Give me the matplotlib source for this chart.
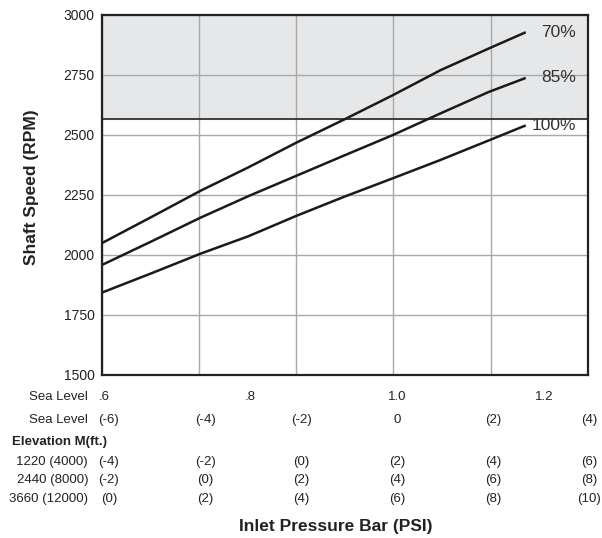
import numpy as np
import matplotlib
matplotlib.use("Agg")
from matplotlib import pyplot as plt
from matplotlib import transforms

plt.rcParams['font.family'] = ['Liberation Sans', 'DejaVu Sans']

# inlet pressure, sea level gauge psi
psi = [-6.15, -5.1, -4.1, -3.1, -2.1, -1.1, -0.1, 0.9, 1.9, 2.65]
# shaft speed (rpm) for each load
rpm_70 = [2049, 2160, 2267, 2365, 2468, 2565, 2665, 2770, 2860, 2926]
rpm_85 = [1958, 2058, 2155, 2245, 2330, 2415, 2499, 2590, 2679, 2736]
rpm_100 = [1843, 1925, 2005, 2078, 2163, 2243, 2319, 2396, 2477, 2538]
curve_names = ["70%", "85%", "100%"]

limit_rpm = 2567  # shaded zone starts here

# pressure scale rows under the chart
bar_vals = [0.6, 0.8, 1.0, 1.2]
bar_text = [".6", ".8", "1.0", "1.2"]
psi_cols = [-6, -4, -2, 0, 2, 4]
row_names = ["Sea Level", "1220 (4000)", "2440 (8000)", "3660 (12000)"]
row_text = [
    ["(-6)", "(-4)", "(-2)", "0", "(2)", "(4)"],
    ["(-4)", "(-2)", "(0)", "(2)", "(4)", "(6)"],
    ["(-2)", "(0)", "(2)", "(4)", "(6)", "(8)"],
    ["(0)", "(2)", "(4)", "(6)", "(8)", "(10)"],
]

W, H = 602, 538
fig = plt.figure(figsize=(W/100, H/100), dpi=100)
ax = fig.add_axes([101.7/W, 1-375/H, (588-101.7)/W, 360/H])

xmin, xmax = -6.15, 3.97
ax.set_xlim(xmin, xmax)
ax.set_ylim(1500, 3000)

ax.axhspan(limit_rpm, 3000, color='#e6e7e9', zorder=0)
ax.axhline(limit_rpm, color='#222222', lw=1.2, zorder=2)

ax.set_xticks(np.linspace(xmin, xmax, 6))
ax.set_yticks(np.arange(1500, 3001, 250))
ax.grid(True, color='#a8a8a8', lw=1.0, zorder=1)
ax.set_axisbelow(True)
ax.tick_params(axis='x', length=0, labelbottom=False)
ax.tick_params(axis='y', length=0, pad=5, labelsize=10, labelcolor='#222222')
for s in ax.spines.values():
    s.set_linewidth(1.6)
    s.set_color('#222222')
    s.set_zorder(5)

for rpm, name in zip([rpm_70, rpm_85, rpm_100], curve_names):
    ax.plot(psi, rpm, color='#1a1a1a', lw=1.8, zorder=3)
    ax.text(3.72, rpm[-1] + 3, name, ha='right', va='center', fontsize=12.5,
            color='#333333', zorder=4)

# bottom scale rows (x in data, y in figure)
tr = transforms.blended_transform_factory(ax.transData, fig.transFigure)
def fy(py):
    return 1 - py/H

txt = dict(fontsize=9.5, color='#222222', va='center')
fig.text(88/W, fy(397), "Sea Level", ha='right', **txt)
for b, t in zip(bar_vals, bar_text):
    ax.text((b - 1.0)*15.25, fy(397), t, transform=tr, ha='center', **txt)

row_y = [420, 462, 480, 499]
for name, vals, py in zip(row_names, row_text, row_y):
    fig.text(88/W, fy(py), name, ha='right', **txt)
    for p, t in zip(psi_cols, vals):
        ax.text(p, fy(py), t, transform=tr, ha='center', **txt)

fig.text(12/W, fy(442), "Elevation M(ft.)", ha='left', fontweight='bold',
         fontsize=9.5, color='#222222', va='center')

fig.text(336/W, fy(527), "Inlet Pressure Bar (PSI)", ha='center', va='center',
         fontweight='bold', fontsize=12.5, color='#222222')
fig.text(32/W, fy(187), "Shaft Speed (RPM)", ha='center', va='center',
         rotation=90, fontweight='bold', fontsize=12.5, color='#222222')

fig.savefig("out.png", dpi=100)
